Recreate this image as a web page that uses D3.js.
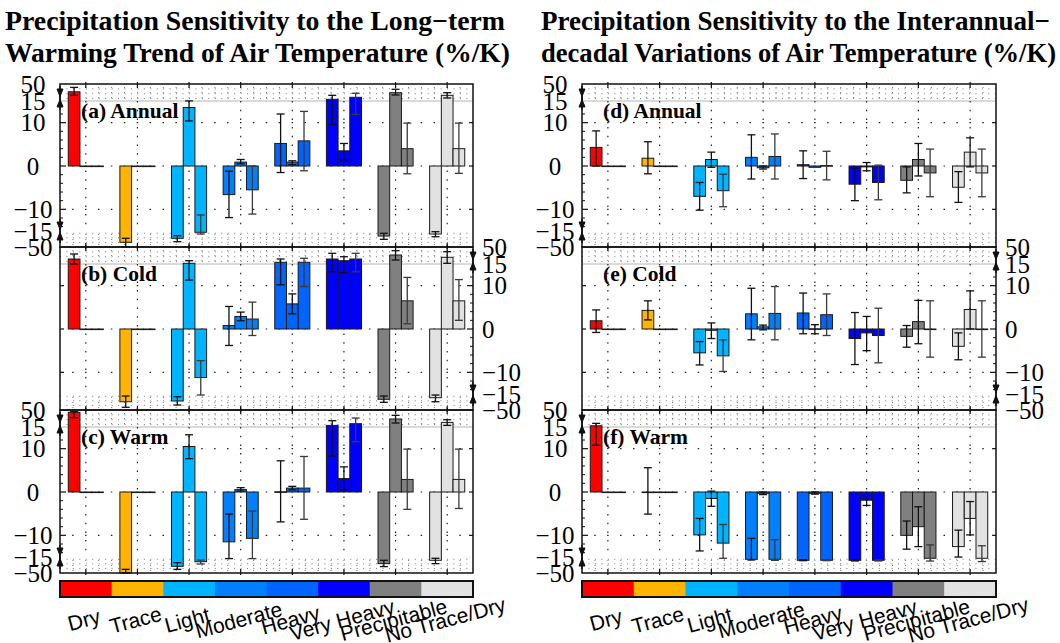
<!DOCTYPE html>
<html><head><meta charset="utf-8">
<script src="https://cdn.jsdelivr.net/npm/d3@7"></script>
<style>body{margin:0;background:#fff} svg{display:block}</style>
</head><body>
<svg id="chart" width="1060" height="643"></svg>
<script>
// ---------- DATA ----------
const categories = ["Dry","Trace","Light","Moderate","Heavy","Very Heavy","Precipitable","No Trace/Dry"];
const categoryColors = ["#ff0000","#ffb400","#00b4ff","#0080ff","#0064ff","#0000ff","#808080","#e2e2e2"];
const tickValues = [50,15,10,0,-10,-15,-50];
const tickLabels = ["50","15","10","0","−10","−15","−50"];
const titleLeft = ["Precipitation Sensitivity to the Long−term","Warming Trend of Air Temperature (%/K)"];
const titleRight = ["Precipitation Sensitivity to the Interannual−","decadal Variations of Air Temperature (%/K)"];
const panelLabels = ["(a) Annual","(b) Cold","(c) Warm","(d) Annual","(e) Cold","(f) Warm"];

// values: 8 categories x 3 bars ; errors: [a,b] range or null
const trendAnnual = [[34,0,0],[-39.7,0,0],[-31,13.5,-17.8],[-6.6,0.9,-5.5],[5.2,0.9,5.8],[18.5,3.5,22.6],[-26,32.1,4.0],[-21.6,26.7,4.0]];
const trendAnnualErr = [[[27,43],null,null],[[-31,-49.3],null,null],[[-25.3,-38.4],[10.4,15.2],[-11.3,-21.6]],[[-1.2,-11.9],[0.5,1.5],[0,-11.1]],[[-1.5,12],[0.3,1.2],[-1.1,12.6]],[[9.5,26.7],[1.4,5.2],[11.9,30.9]],[[-20,-33.2],[27.4,39.1],[-1.8,9.9]],[[-16.5,-27.5],[21.2,32.1],[-1.7,9.9]]];
const trendCold = [[25.3,0,0],[-31.9,0,0],[-30.3,16.4,-11.2],[0.8,2.9,2.3],[18.5,5.8,18.5],[25.3,21.8,25.3],[-26.6,33.5,6.5],[-23.1,28.8,6.5]];
const trendColdErr = [[[15,35.6],null,null],[[-19.4,-44.1],null,null],[[-20.9,-39.1],[11.3,21.8],[-7.3,-17.2]],[[5.2,-3.8],[1.9,3.9],[6.2,-1.5]],[[10.2,25.3],[3.5,8.1],[9.8,26.8]],[[13.2,37],[13,30],[13.2,37]],[[-19.4,-33.2],[23.2,42.4],[1.2,11.9]],[[-17.2,-31.9],[16.4,40.3],[2,11.4]]];
const trendWarm = [[45.3,0,0],[-50,0,0],[-35.4,10.5,-25.3],[-11.5,0.55,-10.7],[0.05,0.9,0.9],[18.3,3.1,21.8],[-29.5,31.5,2.9],[-22.2,24.5,2.9]];
const trendWarmErr = [[[34.2,46.5],null,null],[[-42,-50],null,null],[[-27.5,-42],[7.7,13.2],[-21.6,-30.3]],[[-5.1,-18.5],[0.2,1],[-4.4,-18.5]],[[7.2,-6.9],[0.5,1.3],[8.2,-6.3]],[[8.3,28],[0.5,5.8],[11.6,33.5]],[[-22.2,-36],[23.2,39],[9.9,-4]],[[-17.8,-29.5],[18.3,30],[9.9,-3.8]]];

const varAnnual = [[4.3,0,0],[1.8,0,0],[-7,1.5,-5.7],[2,-0.4,2.2],[0.3,-0.3,0.1],[-4.2,-0.2,-3.8],[-3.3,1.5,-1.6],[-4.9,3.2,-1.6]];
const varAnnualErr = [[[8.1,0],null,null],[[5.6,-1.8],null,null],[[-3.8,-10.2],[3.2,-0.3],[-1.9,-9.4]],[[7.2,-3],[0,-0.7],[7.4,-3]],[[3.5,-2.9],null,[3.4,-3.2]],[[-0.5,-8],[0.8,-1.1],[0.2,-7.8]],[[-0.2,-6.2],[5.2,-2.3],[3.9,-7.1]],[[-1.3,-8.4],[6.5,-0.2],[3.9,-7.1]]];
const varCold = [[1.9,0,0],[4.3,0,0],[-5.5,-0.3,-6.2],[3.5,0.5,3.6],[3.7,0.05,3.3],[-2.2,-0.9,-1.5],[-1.7,1.7,0],[-4,4.5,0]];
const varColdErr = [[[4.4,-0.8],null,null],[[6.5,2.1],null,null],[[-2.9,-8.3],[1.4,-2.2],[-2.5,-9.8]],[[9.4,-2.5],[0.9,-0.2],[9.8,-2.5]],[[8.3,-1.1],[1,-1.1],[8.1,-1.5]],[[3.8,-8.2],[2.9,-5],[4.8,-7.8]],[[0.8,-4.2],[6.6,-3.4],[6.5,-6.5]],[[-0.9,-7.1],[8.8,0],[6.5,-6.5]]];
const varWarm = [[17.5,0,0],[0,0,0],[-9.9,-1.5,-11.8],[-20,-0.3,-20],[-22.2,-0.3,-22.2],[-22.2,-1.9,-22.2],[-10,-8,-17.8],[-12.6,-6.1,-17.8]];
const varWarmErr = [[[22.5,10.8],null,null],[[5.6,-5.1],null,null],[[-6.1,-13.6],[0.2,-3.3],[-7.5,-17.8]],[[-10.7,-21.6],[0,-0.6],[-11,-22.3]],[[-21,-23],[0,-0.5],[-21,-23]],[[-21.5,-23.7],[-0.8,-3.1],[-21.5,-23.7]],[[-6.7,-13.2],[-3.4,-12.6],[-12.2,-23.8]],[[-8.8,-15.1],[-2.2,-9.9],[-12.4,-25]]];

// ---------- LAYOUT ----------
const svg = d3.select("#chart");
const cols = [{x0:60,x1:473},{x0:582,x1:996}];
const rowTops = [84,247,410];
const sides = ["left","right","left"];
const serif = "'Liberation Serif','Times New Roman',serif";
const sans = "'Liberation Sans',Arial,sans-serif";

function drawPanel(col, T, side, vals, errs, label){
  const x0 = col.x0, x1 = col.x1;
  const y = d3.scaleLinear().domain([-50,-15,15,50]).range([T+163,T+147,T+17,T]);
  const gx = d3.scaleBand().domain(categories).range([x0,x1]).paddingInner(0.32).paddingOuter(0.16);
  const bx = d3.scaleBand().domain([0,1,2]).range([0,gx.bandwidth()]);
  const step = gx.step();
  const g = svg.append("g");

  // gray line at 15
  g.append("line").attr("x1",x0).attr("x2",x1).attr("y1",y(15)).attr("y2",y(15))
    .attr("stroke","#b4b4b4").attr("stroke-width",1);

  // break-zone dotted grid
  const quarters = d3.range(1,32).map(i => x0 + i*step/4);
  [[50,15],[-15,-50]].forEach(([a,b]) => {
    g.selectAll(null).data(quarters).join("line")
      .attr("x1",d=>d).attr("x2",d=>d).attr("y1",y(a)+3).attr("y2",y(b)-1)
      .attr("stroke","#666").attr("stroke-width",0.9).attr("stroke-dasharray","1,4");
  });
  g.selectAll(null).data([20,30,40,-20,-30,-40]).join("line")
    .attr("x1",x0).attr("x2",x1).attr("y1",d=>y(d)).attr("y2",d=>y(d))
    .attr("stroke","#666").attr("stroke-width",0.9).attr("stroke-dasharray","1,5.45");
  // main-zone dotted grid
  g.selectAll(null).data([10,0,-10]).join("line")
    .attr("x1",x0+step/4-0.75).attr("x2",x1).attr("y1",d=>y(d)).attr("y2",d=>y(d))
    .attr("stroke","#222").attr("stroke-width",1.2).attr("stroke-dasharray",`1.5,${step/4-1.5}`);
  g.selectAll(null).data(categories).join("line")
    .attr("x1",d=>gx(d)+gx.bandwidth()/2).attr("x2",d=>gx(d)+gx.bandwidth()/2)
    .attr("y1",y(15)).attr("y2",y(-15))
    .attr("stroke","#222").attr("stroke-width",1.2).attr("stroke-dasharray","1.5,7.2");

  // bars
  categories.forEach((c,i) => {
    vals[i].forEach((v,j) => {
      const xb = gx(c) + bx(j);
      const yv = y(v), y0 = y(0);
      g.append("rect").attr("x",xb).attr("width",bx.bandwidth())
        .attr("y",Math.min(yv,y0)).attr("height",Math.max(Math.abs(yv-y0),0.6))
        .attr("fill",categoryColors[i]).attr("stroke","#1a1a1a").attr("stroke-width",1);
    });
  });
  // error bars
  categories.forEach((c,i) => {
    errs[i].forEach((e,j) => {
      if(!e) return;
      const xm = gx(c) + bx(j) + bx.bandwidth()/2;
      const ya = y(Math.max(e[0],e[1])), yb = y(Math.min(e[0],e[1]));
      const col = j===2 ? "#3a3a3a" : "#111";
      g.append("line").attr("x1",xm).attr("x2",xm).attr("y1",ya).attr("y2",yb).attr("stroke",col).attr("stroke-width",1.3);
      [ya,yb].forEach(yy => g.append("line").attr("x1",xm-4).attr("x2",xm+4).attr("y1",yy).attr("y2",yy).attr("stroke",col).attr("stroke-width",1.3));
    });
  });

  // frame
  g.append("rect").attr("x",x0).attr("y",T).attr("width",x1-x0).attr("height",163)
    .attr("fill","none").attr("stroke","#111").attr("stroke-width",1.5);
  // top / bottom ticks at group centers
  categories.forEach(c => {
    const xc = gx(c)+gx.bandwidth()/2;
    g.append("line").attr("x1",xc).attr("x2",xc).attr("y1",T-2).attr("y2",T+4).attr("stroke","#111").attr("stroke-width",1.2);
    g.append("line").attr("x1",xc).attr("x2",xc).attr("y1",T+163-4).attr("y2",T+165).attr("stroke","#111").attr("stroke-width",1.2);
  });
  // y ticks
  const lx = side==="left" ? x0 : x1, dir = side==="left" ? 1 : -1;
  const ox = side==="left" ? x1 : x0;
  [10,0,-10].forEach(v => {
    g.append("line").attr("x1",lx).attr("x2",lx+dir*6).attr("y1",y(v)).attr("y2",y(v)).attr("stroke","#111").attr("stroke-width",1.2);
    g.append("line").attr("x1",ox).attr("x2",ox-dir*4).attr("y1",y(v)).attr("y2",y(v)).attr("stroke","#111").attr("stroke-width",1.2);
  });
  d3.range(-14,15,2).filter(v => v%10!==0).forEach(v => {
    g.append("line").attr("x1",lx).attr("x2",lx+dir*3).attr("y1",y(v)).attr("y2",y(v)).attr("stroke","#111").attr("stroke-width",1);
  });
  // break markers
  [[y(15)-3],[y(-15)]].forEach(([cy]) => {
    g.append("path").attr("d",`M${lx-3},${cy-9}L${lx},${cy-1.5}L${lx+3},${cy-9}Z M${lx-3},${cy+9}L${lx},${cy+1.5}L${lx+3},${cy+9}Z`)
      .attr("fill","#111").attr("stroke","#111").attr("stroke-width",1);
    g.append("line").attr("x1",lx).attr("x2",lx).attr("y1",cy-12).attr("y2",cy+12).attr("stroke","#111").attr("stroke-width",1.5);
  });
  // tick labels
  tickValues.forEach((v,k) => {
    const t = g.append("text").attr("y",y(v)+8.5).text(tickLabels[k])
      .attr("font-family",serif).attr("font-size",25).attr("fill","#000");
    if(side==="left") t.attr("x",x0-27).attr("text-anchor","middle");
    else t.attr("x",x1+9).attr("text-anchor","start");
  });
  // panel label
  g.append("text").attr("x",x0+21).attr("y",T+34).text(label)
    .attr("font-family",serif).attr("font-weight","bold").attr("font-size",21.5).attr("fill","#000");
}

const leftData = [[trendAnnual,trendAnnualErr],[trendCold,trendColdErr],[trendWarm,trendWarmErr]];
const rightData = [[varAnnual,varAnnualErr],[varCold,varColdErr],[varWarm,varWarmErr]];
rowTops.forEach((T,r) => {
  drawPanel(cols[0], T, sides[r], leftData[r][0], leftData[r][1], panelLabels[r]);
  drawPanel(cols[1], T, sides[r], rightData[r][0], rightData[r][1], panelLabels[r+3]);
});

// titles (fitted to the reference widths)
[[titleLeft,5,[500,505]],[titleRight,541,[509,515]]].forEach(([lines,x,lens]) => {
  lines.forEach((s,i) => svg.append("text").attr("x",x).attr("y",30+i*32).text(s)
    .attr("font-family",serif).attr("font-weight","bold").attr("font-size",27)
    .attr("textLength",lens[i]).attr("lengthAdjust","spacingAndGlyphs").attr("fill","#000"));
});

// colorbars
cols.forEach(col => {
  const cx = d3.scaleBand().domain(categories).range([col.x0,col.x1]);
  const g = svg.append("g");
  g.selectAll(null).data(categories).join("rect")
    .attr("x",d=>cx(d)).attr("y",581).attr("width",cx.bandwidth()+0.5).attr("height",16)
    .attr("fill",(d,i)=>categoryColors[i]);
  g.append("rect").attr("x",col.x0).attr("y",581).attr("width",col.x1-col.x0).attr("height",16)
    .attr("fill","none").attr("stroke","#111").attr("stroke-width",2);
  g.selectAll(null).data(categories).join("text")
    .attr("transform",d=>`translate(${cx(d)+cx.bandwidth()/2},627) rotate(-15)`)
    .attr("text-anchor","middle").attr("font-family",sans).attr("font-size",21)
    .attr("fill","#000").text(d=>d);
});
</script>
</body></html>
